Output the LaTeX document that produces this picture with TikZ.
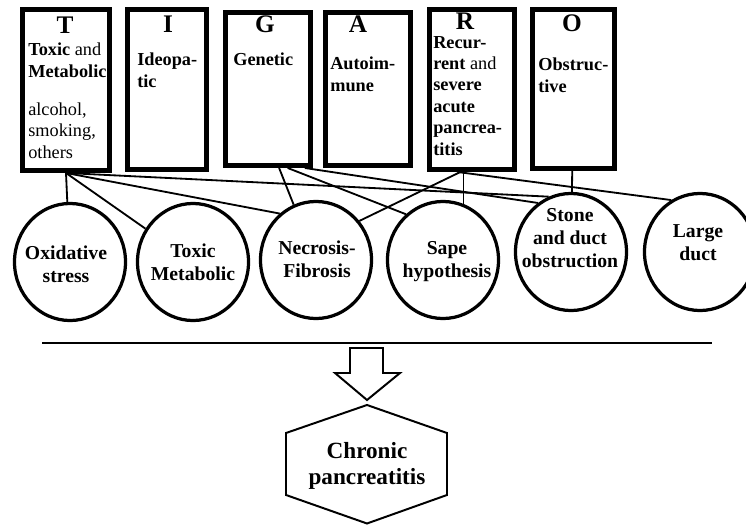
\documentclass[tikz,border=0pt]{standalone}
\usepackage{fontspec}
\setmainfont{Liberation Serif}
\usetikzlibrary{shapes.geometric}

\begin{document}
\begin{tikzpicture}[x=0.025cm, y=-0.025cm,
  letterbox/.style={draw, line width=3.5pt, inner sep=0pt},
  head/.style={font=\bfseries\fontsize{18}{20}\selectfont, inner sep=0pt},
  boxtext/.style={font=\bfseries\fontsize{13}{15.2}\selectfont, align=left, inner sep=0pt, anchor=north west},
  bubble/.style={draw, ellipse, line width=2.3pt, inner sep=0pt, minimum width=2.775cm, minimum height=2.925cm},
  ctext/.style={font=\bfseries\fontsize{14}{16.3}\selectfont, align=center, inner sep=0pt},
  link/.style={line width=1.3pt},
  outline/.style={line width=1.4pt, line join=miter}]
\useasboundingbox (0,0) rectangle (746,526);

\node[letterbox, minimum width=2.175cm, minimum height=4.025cm] (t) at (66,90) {};
\node[letterbox, minimum width=1.975cm, minimum height=4cm] (i) at (167,89.5) {};
\node[letterbox, minimum width=2.125cm, minimum height=3.825cm] (g) at (268,89) {};
\node[letterbox, minimum width=2.125cm, minimum height=3.825cm] (a) at (368,89) {};
\node[letterbox, minimum width=2.125cm, minimum height=4cm] (r) at (472,89.5) {};
\node[letterbox, minimum width=2.05cm, minimum height=3.975cm] (o) at (573.5,89) {};

\node[head] (t-h) at (65,25) {T};
\node[head] (i-h) at (168,24.5) {I};
\node[head] (g-h) at (265,24.5) {G};
\node[head] (a-h) at (358,24.5) {A};
\node[head] (r-h) at (465,21) {R};
\node[head] (o-h) at (572,23) {O};

\node[boxtext] (t-x) at (28,43) {Toxic \textmd{and}\\Metabolic\\[12pt]\textmd{alcohol,}\\\textmd{smoking,}\\\textmd{others}};
\node[boxtext] (i-x) at (137,53) {Ideopa-\\tic};
\node[boxtext] (g-x) at (233,53) {Genetic};
\node[boxtext] (a-x) at (330,57) {Autoim-\\mune};
\node[boxtext] (r-x) at (433,36) {Recur-\\rent \textmd{and}\\severe\\acute\\pancrea-\\titis};
\node[boxtext] (o-x) at (538,58) {Obstruc-\\tive};

\node[bubble] (ox) at (70,262) {};
\node[bubble] (tm) at (193,262) {};
\node[bubble] (nf) at (316,260) {};
\node[bubble] (sh) at (443,260) {};
\node[bubble] (st) at (571,252) {};
\node[bubble] (ld) at (700,252) {};

\node[ctext] (ox-x) at (66,264) {Oxidative\\stress};
\node[ctext] (tm-x) at (193,262) {Toxic\\Metabolic};
\node[ctext] (nf-x) at (317,259) {Necrosis-\\Fibrosis};
\node[ctext] (sh-x) at (447,262) {Sape\\hypothesis};
\node[ctext] (st-x) at (570,238) {Stone\\and duct\\obstruction};
\node[ctext] (ld-x) at (698,243) {Large\\duct};

\draw[link] (t.south) -- (ox);
\draw[link] (t.south) -- (tm);
\draw[link] (t.south) -- (nf.128);
\draw[link] (t.south) -- (st.112);
\draw[link] (g.-82) -- (nf.112);
\draw[link] (g.-76) -- (sh.129);
\draw[link] (g.-65) -- (st.124);
\draw[link] (r.-98) -- (nf.42);
\draw[link] (sh.70 |- r.south) -- (sh.70);
\draw[link] (r.-100) -- (ld.119);
\draw[link] (o) -- (st);

\draw[outline] (42,343) -- (712,343);
\draw[outline] (350,348) -- (383,348) -- (383,373) -- (400,373) -- (367,400)
  -- (335,373) -- (350,373) -- cycle;

\node[ctext, font=\bfseries\fontsize{16.5}{19}\selectfont] (cp) at (367,466) {Chronic\\pancreatitis};
\draw[outline] (367,405) -- (447,433) -- (447,495) -- (367,523.5) -- (286,495) -- (286,433) -- cycle;
\end{tikzpicture}
\end{document}
